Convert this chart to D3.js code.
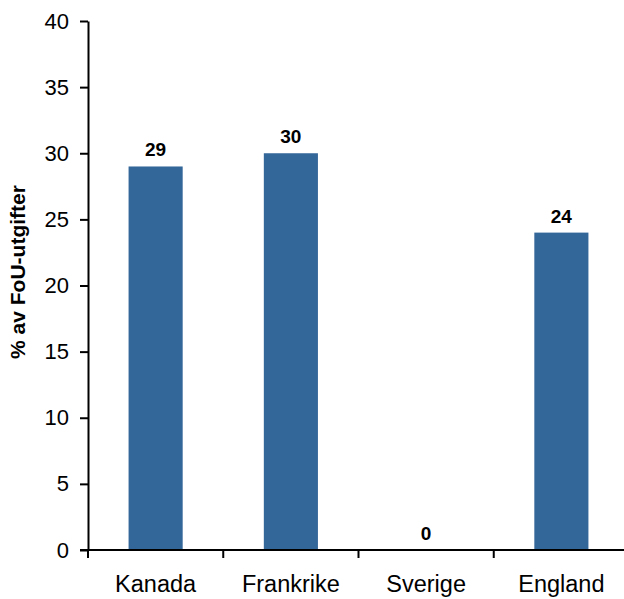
<!DOCTYPE html>
<html>
<head>
<meta charset="utf-8">
<script src="https://cdn.jsdelivr.net/npm/d3@7/dist/d3.min.js"></script>
<style>
  body { margin: 0; background: #fff; }
  svg { display: block; }
  text { font-family: "Liberation Sans", Arial, sans-serif; }
</style>
</head>
<body>
<svg id="chart" width="624" height="599"></svg>
<script>
const categories = ["Kanada", "Frankrike", "Sverige", "England"];
const values = [29, 30, 0, 24];
const yTicks = [0, 5, 10, 15, 20, 25, 30, 35, 40];
const yTitle = "% av FoU-utgifter";

const svg = d3.select("#chart");
const x0 = 88, x1 = 629, yTop = 21, yBot = 550;

const x = d3.scaleBand().domain(categories).range([x0, x1]).paddingInner(0.6).paddingOuter(0.3);
const y = d3.scaleLinear().domain([0, 40]).range([yBot, yTop]);

// bars
svg.append("g").selectAll("rect").data(categories).join("rect")
  .attr("x", d => x(d))
  .attr("width", x.bandwidth())
  .attr("y", (d, i) => y(values[i]))
  .attr("height", (d, i) => y(0) - y(values[i]))
  .attr("fill", "#336699");

// value labels
svg.append("g").selectAll("text").data(categories).join("text")
  .attr("x", d => x(d) + x.bandwidth() / 2)
  .attr("y", (d, i) => y(values[i]) - 10)
  .attr("text-anchor", "middle")
  .attr("font-size", 19)
  .attr("font-weight", "bold")
  .attr("fill", "#000")
  .text((d, i) => values[i]);

// y axis
const yAxis = d3.axisLeft(y).tickValues(yTicks).tickSize(8).tickPadding(11).tickSizeOuter(0);
const gy = svg.append("g").attr("transform", `translate(${x0},0)`).call(yAxis);
gy.select(".domain").attr("stroke", "#000").attr("stroke-width", 2);
gy.selectAll(".tick line").attr("stroke", "#000").attr("stroke-width", 2);
gy.selectAll(".tick text").attr("font-size", 22).attr("fill", "#000")
  .attr("font-family", "Liberation Sans, Arial, sans-serif");

// x axis with ticks at band boundaries
const xb = d3.scaleLinear().domain([0, categories.length]).range([x0, x1]);
const gx = svg.append("g").attr("transform", `translate(0,${yBot})`);
gx.append("line").attr("x1", x0 - 8).attr("x2", x1).attr("y1", 0).attr("y2", 0)
  .attr("stroke", "#000").attr("stroke-width", 2);
gx.selectAll(".bt").data(d3.range(categories.length + 1)).join("line")
  .attr("class", "bt")
  .attr("x1", d => xb(d)).attr("x2", d => xb(d))
  .attr("y1", 0).attr("y2", 8)
  .attr("stroke", "#000").attr("stroke-width", 2);
gx.selectAll(".cl").data(categories).join("text")
  .attr("class", "cl")
  .attr("x", d => x(d) + x.bandwidth() / 2)
  .attr("y", 42)
  .attr("text-anchor", "middle")
  .attr("font-size", 23.5)
  .attr("fill", "#000")
  .text(d => d);

// y title
svg.append("text")
  .attr("transform", `translate(25,272) rotate(-90)`)
  .attr("text-anchor", "middle")
  .attr("font-size", 21)
  .attr("font-weight", "bold")
  .attr("fill", "#000")
  .text(yTitle);
</script>
</body>
</html>
